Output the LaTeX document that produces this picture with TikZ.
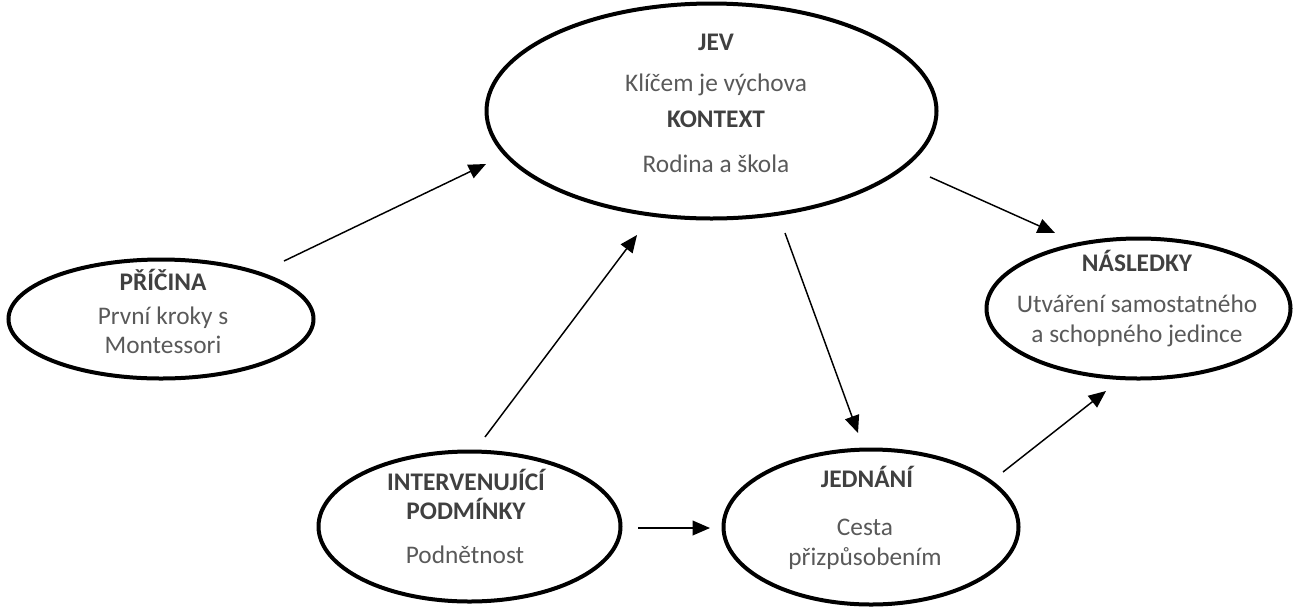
\documentclass[tikz,border=0pt]{standalone}
\usepackage{fontspec}
\setmainfont{Carlito}
\usetikzlibrary{shapes.geometric,arrows.meta}
\definecolor{txtgray}{HTML}{595959}
\definecolor{hdgray}{HTML}{404040}
\tikzset{
  oval/.style={draw=black, line width=3pt, ellipse, inner sep=0pt},
  body/.style={anchor=base, text=txtgray, font=\fontsize{19}{24}\selectfont, inner sep=0pt},
  head/.style={anchor=base, text=hdgray, font=\fontsize{19}{24}\selectfont\bfseries, inner sep=0pt},
  link/.style={line width=1.1pt, -{Triangle[length=13pt,width=11pt]}}
}
\begin{document}
\begin{tikzpicture}[x=0.75pt,y=-0.75pt]
\useasboundingbox (0,0) rectangle (1299,608);
% ellipses
\node[oval, minimum width=337.5pt, minimum height=161.25pt] (jev) at (711.5,111) {};
\node[oval, minimum width=228.75pt, minimum height=89.25pt] (pricina) at (161,319) {};
\node[oval, minimum width=228pt, minimum height=105pt] (nasledky) at (1138.5,308.5) {};
\node[oval, minimum width=226.5pt, minimum height=112.5pt] (inter) at (469.5,526.5) {};
\node[oval, minimum width=221.25pt, minimum height=116.25pt] (jednani) at (871,527) {};
% texts
\node[head] (jevh) at (716,50) {JEV};
\node[body] (jevb) at (716,91) {Klíčem je výchova};
\node[head] (konh) at (716,127) {KONTEXT};
\node[body] (konb) at (716,172) {Rodina a škola};
\node[head] (prih) at (163,290) {PŘÍČINA};
\node[body] (prib1) at (163,324) {První kroky s};
\node[body] (prib2) at (163,353) {Montessori};
\node[head] (nash) at (1137,271) {NÁSLEDKY};
\node[body] (nasb1) at (1137,312) {Utváření samostatného};
\node[body] (nasb2) at (1137,342) {a schopného jedince};
\node[head] (inth1) at (466,490) {INTERVENUJÍCÍ};
\node[head] (inth2) at (466,519) {PODMÍNKY};
\node[body] (intb) at (465,563) {Podnětnost};
\node[head] (jedh) at (867,487) {JEDNÁNÍ};
\node[body] (jedb1) at (865,535) {Cesta};
\node[body] (jedb2) at (865,565) {přizpůsobením};
% arrow end points
\coordinate (a1s) at (284,261); \coordinate (a1e) at (486,164);
\coordinate (a2s) at (485,437); \coordinate (a2e) at (637,235);
\coordinate (a3s) at (785,233); \coordinate (a3e) at (858,433);
\coordinate (a4s) at (930,177); \coordinate (a4e) at (1055,233);
\coordinate (a5s) at (638,528); \coordinate (a5e) at (710,528);
\coordinate (a6s) at (1003,472); \coordinate (a6e) at (1106,391);
\draw[link] (a1s) -- (a1e);
\draw[link] (a2s) -- (a2e);
\draw[link] (a3s) -- (a3e);
\draw[link] (a4s) -- (a4e);
\draw[link] (a5s) -- (a5e);
\draw[link] (a6s) -- (a6e);
\end{tikzpicture}
\end{document}
